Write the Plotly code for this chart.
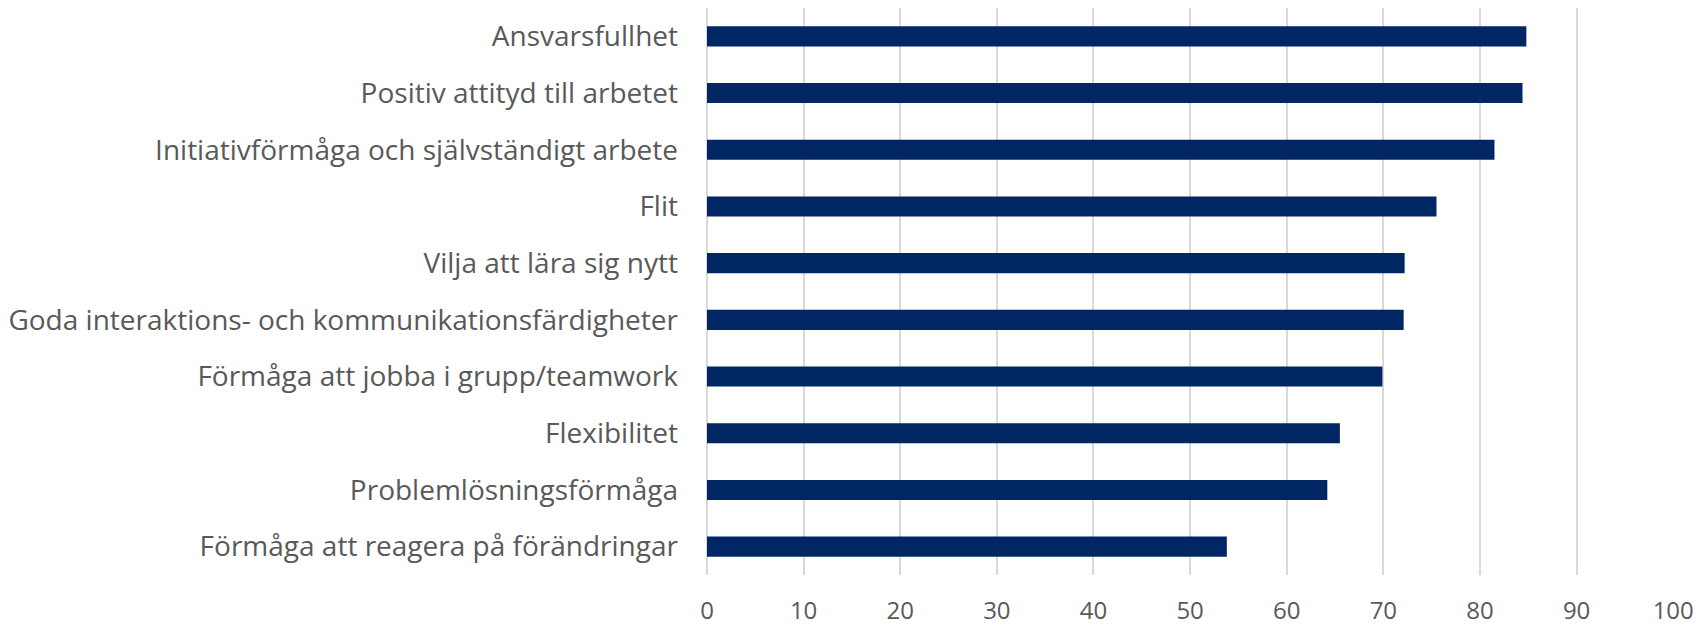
import plotly.graph_objects as go

categories = [
    "Ansvarsfullhet",
    "Positiv attityd till arbetet",
    "Initiativförmåga och självständigt arbete",
    "Flit",
    "Vilja att lära sig nytt",
    "Goda interaktions- och kommunikationsfärdigheter",
    "Förmåga att jobba i grupp/teamwork",
    "Flexibilitet",
    "Problemlösningsförmåga",
    "Förmåga att reagera på förändringar",
]
values = [84.8, 84.4, 81.5, 75.5, 72.2, 72.1, 69.9, 65.5, 64.2, 53.8]
x_ticks = [0, 10, 20, 30, 40, 50, 60, 70, 80, 90, 100]

FONT = "Open Sans"
TEXT = "#595959"

fig = go.Figure(
    go.Bar(
        x=values,
        y=categories,
        orientation="h",
        marker=dict(color="#002664", line=dict(width=0)),
        hoverinfo="x+y",
    )
)

# page body has an 8px default margin; compensate so the plot sits where the reference does
fig.update_layout(
    width=1693,
    height=619,
    margin=dict(l=699, r=27, t=0, b=52),
    paper_bgcolor="white",
    plot_bgcolor="white",
    bargap=0.645,
    showlegend=False,
    font=dict(family=FONT, color=TEXT, size=26),
)

fig.update_xaxes(
    range=[0, 100.08],
    tickvals=x_ticks,
    showgrid=True,
    gridcolor="#d9d9d9",
    gridwidth=1.5,
    zeroline=True,
    zerolinecolor="#d9d9d9",
    zerolinewidth=1.5,
    showline=False,
    ticks="",
    ticklabelstandoff=19,
    tickfont=dict(family=FONT, color=TEXT, size=24),
    automargin=False,
    fixedrange=True,
)

fig.update_yaxes(
    categoryorder="array",
    categoryarray=categories[::-1],
    autorange=True,
    showgrid=False,
    zeroline=False,
    showline=False,
    ticks="",
    ticklabelstandoff=28,
    tickfont=dict(family=FONT, color=TEXT, size=28),
    automargin=False,
    fixedrange=True,
)

fig.write_html("out.html")
